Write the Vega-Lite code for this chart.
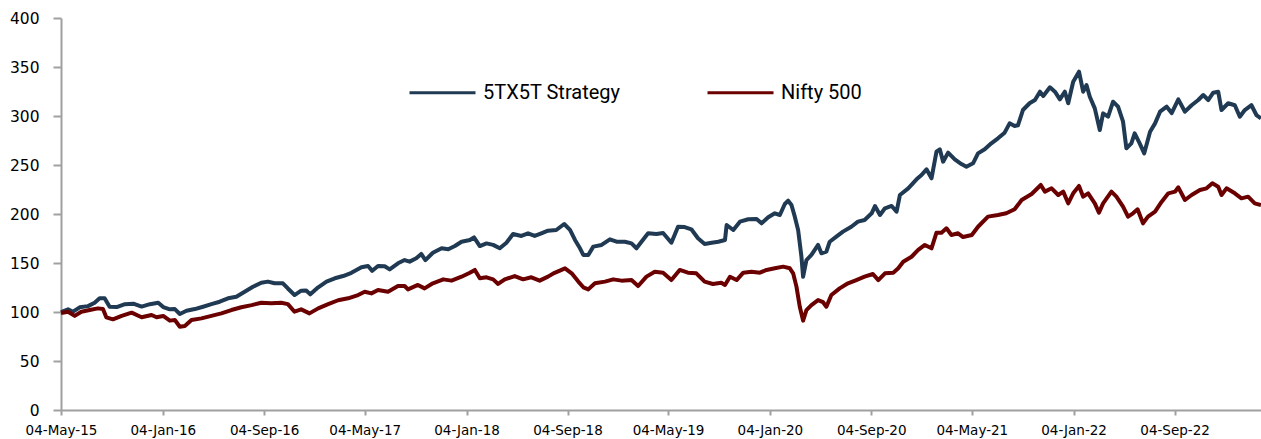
{
  "$schema": "https://vega.github.io/schema/vega-lite/v6.json",
  "autosize": {"type": "none"},
  "padding": {"left": 61, "top": 18, "right": 0, "bottom": 29},
  "width": 1200,
  "height": 392,
  "background": "white",
  "config": {"view": {"stroke": null}},
  "data": {"values": [
    {"d":"2015-05-04","s":"5TX5T Strategy","v":100},{"d":"2015-05-21","s":"5TX5T Strategy","v":102.7},{"d":"2015-06-02","s":"5TX5T Strategy","v":100.3},{"d":"2015-06-18","s":"5TX5T Strategy","v":104.8},{"d":"2015-07-08","s":"5TX5T Strategy","v":106},{"d":"2015-07-24","s":"5TX5T Strategy","v":109.5},{"d":"2015-08-05","s":"5TX5T Strategy","v":114},{"d":"2015-08-17","s":"5TX5T Strategy","v":114},{"d":"2015-08-29","s":"5TX5T Strategy","v":105.4},{"d":"2015-09-15","s":"5TX5T Strategy","v":105},{"d":"2015-10-05","s":"5TX5T Strategy","v":108},{"d":"2015-10-25","s":"5TX5T Strategy","v":108.5},{"d":"2015-11-14","s":"5TX5T Strategy","v":105.5},{"d":"2015-12-04","s":"5TX5T Strategy","v":108},{"d":"2015-12-24","s":"5TX5T Strategy","v":109.5},
    {"d":"2016-01-05","s":"5TX5T Strategy","v":105},{"d":"2016-01-21","s":"5TX5T Strategy","v":102.7},{"d":"2016-02-02","s":"5TX5T Strategy","v":103},{"d":"2016-02-14","s":"5TX5T Strategy","v":98},{"d":"2016-03-01","s":"5TX5T Strategy","v":101.3},{"d":"2016-03-21","s":"5TX5T Strategy","v":103},{"d":"2016-04-10","s":"5TX5T Strategy","v":105.4},{"d":"2016-04-30","s":"5TX5T Strategy","v":108},{"d":"2016-05-20","s":"5TX5T Strategy","v":110.5},{"d":"2016-06-09","s":"5TX5T Strategy","v":114},{"d":"2016-06-29","s":"5TX5T Strategy","v":115.6},{"d":"2016-07-19","s":"5TX5T Strategy","v":120.7},{"d":"2016-08-08","s":"5TX5T Strategy","v":125.8},{"d":"2016-08-28","s":"5TX5T Strategy","v":129.9},{"d":"2016-09-13","s":"5TX5T Strategy","v":131},{"d":"2016-09-29","s":"5TX5T Strategy","v":129.3},{"d":"2016-10-19","s":"5TX5T Strategy","v":129.3},{"d":"2016-10-31","s":"5TX5T Strategy","v":124},{"d":"2016-11-16","s":"5TX5T Strategy","v":117.3},{"d":"2016-12-02","s":"5TX5T Strategy","v":121.8},{"d":"2016-12-14","s":"5TX5T Strategy","v":122},{"d":"2016-12-24","s":"5TX5T Strategy","v":118},
    {"d":"2017-01-12","s":"5TX5T Strategy","v":125.2},{"d":"2017-02-01","s":"5TX5T Strategy","v":131},{"d":"2017-02-21","s":"5TX5T Strategy","v":134.4},{"d":"2017-03-13","s":"5TX5T Strategy","v":136.7},{"d":"2017-04-02","s":"5TX5T Strategy","v":140},{"d":"2017-04-26","s":"5TX5T Strategy","v":145.6},{"d":"2017-05-12","s":"5TX5T Strategy","v":147},{"d":"2017-05-22","s":"5TX5T Strategy","v":142},{"d":"2017-06-05","s":"5TX5T Strategy","v":147},{"d":"2017-06-21","s":"5TX5T Strategy","v":146.7},{"d":"2017-07-03","s":"5TX5T Strategy","v":143.5},{"d":"2017-07-23","s":"5TX5T Strategy","v":149.7},{"d":"2017-08-08","s":"5TX5T Strategy","v":153},{"d":"2017-08-20","s":"5TX5T Strategy","v":151.4},{"d":"2017-09-05","s":"5TX5T Strategy","v":154.8},{"d":"2017-09-17","s":"5TX5T Strategy","v":159.2},{"d":"2017-09-27","s":"5TX5T Strategy","v":153},{"d":"2017-10-15","s":"5TX5T Strategy","v":160.5},{"d":"2017-11-05","s":"5TX5T Strategy","v":165},{"d":"2017-11-21","s":"5TX5T Strategy","v":164},{"d":"2017-12-07","s":"5TX5T Strategy","v":167.3},{"d":"2017-12-23","s":"5TX5T Strategy","v":171.7},
    {"d":"2018-01-12","s":"5TX5T Strategy","v":173.5},{"d":"2018-01-22","s":"5TX5T Strategy","v":176.2},{"d":"2018-02-05","s":"5TX5T Strategy","v":167.3},{"d":"2018-02-21","s":"5TX5T Strategy","v":170},{"d":"2018-03-09","s":"5TX5T Strategy","v":168.5},{"d":"2018-03-25","s":"5TX5T Strategy","v":165},{"d":"2018-04-10","s":"5TX5T Strategy","v":170.7},{"d":"2018-04-26","s":"5TX5T Strategy","v":179.6},{"d":"2018-05-16","s":"5TX5T Strategy","v":177.6},{"d":"2018-06-01","s":"5TX5T Strategy","v":180.3},{"d":"2018-06-17","s":"5TX5T Strategy","v":177.6},{"d":"2018-07-03","s":"5TX5T Strategy","v":180.3},{"d":"2018-07-19","s":"5TX5T Strategy","v":183},{"d":"2018-08-08","s":"5TX5T Strategy","v":183.7},{"d":"2018-08-27","s":"5TX5T Strategy","v":189.8},{"d":"2018-09-10","s":"5TX5T Strategy","v":183.7},{"d":"2018-09-22","s":"5TX5T Strategy","v":173.5},{"d":"2018-10-04","s":"5TX5T Strategy","v":165},{"d":"2018-10-12","s":"5TX5T Strategy","v":158.2},{"d":"2018-10-24","s":"5TX5T Strategy","v":158.2},{"d":"2018-11-05","s":"5TX5T Strategy","v":166.7},{"d":"2018-11-25","s":"5TX5T Strategy","v":168.4},{"d":"2018-12-15","s":"5TX5T Strategy","v":174.2},{"d":"2018-12-31","s":"5TX5T Strategy","v":171.7},
    {"d":"2019-01-20","s":"5TX5T Strategy","v":171.7},{"d":"2019-02-05","s":"5TX5T Strategy","v":170},{"d":"2019-02-17","s":"5TX5T Strategy","v":165},{"d":"2019-03-01","s":"5TX5T Strategy","v":171.7},{"d":"2019-03-17","s":"5TX5T Strategy","v":180.3},{"d":"2019-04-06","s":"5TX5T Strategy","v":179.6},{"d":"2019-04-22","s":"5TX5T Strategy","v":180.6},{"d":"2019-05-12","s":"5TX5T Strategy","v":170.7},{"d":"2019-05-28","s":"5TX5T Strategy","v":187},{"d":"2019-06-13","s":"5TX5T Strategy","v":186.7},{"d":"2019-06-29","s":"5TX5T Strategy","v":184.4},{"d":"2019-07-15","s":"5TX5T Strategy","v":175.2},{"d":"2019-07-31","s":"5TX5T Strategy","v":169.4},{"d":"2019-08-17","s":"5TX5T Strategy","v":170.7},{"d":"2019-09-02","s":"5TX5T Strategy","v":171.7},{"d":"2019-09-18","s":"5TX5T Strategy","v":173.5},{"d":"2019-09-22","s":"5TX5T Strategy","v":188.8},{"d":"2019-10-08","s":"5TX5T Strategy","v":183.7},{"d":"2019-10-24","s":"5TX5T Strategy","v":192.2},{"d":"2019-11-13","s":"5TX5T Strategy","v":194.6},{"d":"2019-12-03","s":"5TX5T Strategy","v":195},{"d":"2019-12-15","s":"5TX5T Strategy","v":190.5},{"d":"2019-12-31","s":"5TX5T Strategy","v":196.6},
    {"d":"2020-01-16","s":"5TX5T Strategy","v":200.7},{"d":"2020-01-28","s":"5TX5T Strategy","v":199},{"d":"2020-02-09","s":"5TX5T Strategy","v":210.2},{"d":"2020-02-17","s":"5TX5T Strategy","v":213.6},{"d":"2020-02-25","s":"5TX5T Strategy","v":209.2},{"d":"2020-03-04","s":"5TX5T Strategy","v":197.3},{"d":"2020-03-12","s":"5TX5T Strategy","v":183.7},{"d":"2020-03-20","s":"5TX5T Strategy","v":156.4},{"d":"2020-03-24","s":"5TX5T Strategy","v":136},{"d":"2020-04-01","s":"5TX5T Strategy","v":153},{"d":"2020-04-13","s":"5TX5T Strategy","v":158.2},{"d":"2020-04-29","s":"5TX5T Strategy","v":168.4},{"d":"2020-05-07","s":"5TX5T Strategy","v":159.9},{"d":"2020-05-19","s":"5TX5T Strategy","v":161.6},{"d":"2020-05-27","s":"5TX5T Strategy","v":171.7},{"d":"2020-06-12","s":"5TX5T Strategy","v":176.9},{"d":"2020-06-28","s":"5TX5T Strategy","v":182},{"d":"2020-07-18","s":"5TX5T Strategy","v":187},{"d":"2020-08-03","s":"5TX5T Strategy","v":192.2},{"d":"2020-08-19","s":"5TX5T Strategy","v":193.9},{"d":"2020-09-05","s":"5TX5T Strategy","v":200.7},{"d":"2020-09-13","s":"5TX5T Strategy","v":208.2},{"d":"2020-09-25","s":"5TX5T Strategy","v":199},{"d":"2020-10-07","s":"5TX5T Strategy","v":205.8},{"d":"2020-10-23","s":"5TX5T Strategy","v":208.2},{"d":"2020-11-04","s":"5TX5T Strategy","v":202.4},{"d":"2020-11-12","s":"5TX5T Strategy","v":219.4},{"d":"2020-12-02","s":"5TX5T Strategy","v":226.2},{"d":"2020-12-22","s":"5TX5T Strategy","v":235.4},
    {"d":"2021-01-03","s":"5TX5T Strategy","v":239.8},{"d":"2021-01-15","s":"5TX5T Strategy","v":245.6},{"d":"2021-01-27","s":"5TX5T Strategy","v":236.4},{"d":"2021-02-08","s":"5TX5T Strategy","v":263.6},{"d":"2021-02-16","s":"5TX5T Strategy","v":266},{"d":"2021-02-24","s":"5TX5T Strategy","v":253.4},{"d":"2021-03-08","s":"5TX5T Strategy","v":262.6},{"d":"2021-03-24","s":"5TX5T Strategy","v":255.8},{"d":"2021-04-09","s":"5TX5T Strategy","v":251},{"d":"2021-04-21","s":"5TX5T Strategy","v":248.3},{"d":"2021-05-07","s":"5TX5T Strategy","v":251.7},{"d":"2021-05-19","s":"5TX5T Strategy","v":261.9},{"d":"2021-06-04","s":"5TX5T Strategy","v":266},{"d":"2021-06-20","s":"5TX5T Strategy","v":272.1},{"d":"2021-07-06","s":"5TX5T Strategy","v":277.2},{"d":"2021-07-22","s":"5TX5T Strategy","v":283},{"d":"2021-08-03","s":"5TX5T Strategy","v":292.5},{"d":"2021-08-15","s":"5TX5T Strategy","v":289.8},{"d":"2021-08-23","s":"5TX5T Strategy","v":290.5},{"d":"2021-09-04","s":"5TX5T Strategy","v":306.1},{"d":"2021-09-20","s":"5TX5T Strategy","v":313},{"d":"2021-10-03","s":"5TX5T Strategy","v":316.3},{"d":"2021-10-15","s":"5TX5T Strategy","v":324.8},{"d":"2021-10-23","s":"5TX5T Strategy","v":320.4},{"d":"2021-11-08","s":"5TX5T Strategy","v":329.3},{"d":"2021-11-20","s":"5TX5T Strategy","v":324.8},{"d":"2021-12-02","s":"5TX5T Strategy","v":317},{"d":"2021-12-14","s":"5TX5T Strategy","v":324.8},{"d":"2021-12-22","s":"5TX5T Strategy","v":313},
    {"d":"2022-01-03","s":"5TX5T Strategy","v":335},{"d":"2022-01-17","s":"5TX5T Strategy","v":345.2},{"d":"2022-01-27","s":"5TX5T Strategy","v":324.8},{"d":"2022-02-04","s":"5TX5T Strategy","v":331.6},{"d":"2022-02-12","s":"5TX5T Strategy","v":319.7},{"d":"2022-02-24","s":"5TX5T Strategy","v":307.8},{"d":"2022-03-08","s":"5TX5T Strategy","v":285.7},{"d":"2022-03-16","s":"5TX5T Strategy","v":302.7},{"d":"2022-03-28","s":"5TX5T Strategy","v":299.3},{"d":"2022-04-09","s":"5TX5T Strategy","v":314.6},{"d":"2022-04-21","s":"5TX5T Strategy","v":309.5},{"d":"2022-05-03","s":"5TX5T Strategy","v":294.2},{"d":"2022-05-11","s":"5TX5T Strategy","v":267},{"d":"2022-05-23","s":"5TX5T Strategy","v":272.1},{"d":"2022-05-31","s":"5TX5T Strategy","v":282.3},{"d":"2022-06-12","s":"5TX5T Strategy","v":272.1},{"d":"2022-06-23","s":"5TX5T Strategy","v":261.9},{"d":"2022-07-07","s":"5TX5T Strategy","v":284},{"d":"2022-07-19","s":"5TX5T Strategy","v":292.5},{"d":"2022-07-31","s":"5TX5T Strategy","v":304.4},{"d":"2022-08-16","s":"5TX5T Strategy","v":309.5},{"d":"2022-08-28","s":"5TX5T Strategy","v":303},{"d":"2022-09-13","s":"5TX5T Strategy","v":317},{"d":"2022-09-29","s":"5TX5T Strategy","v":304.4},{"d":"2022-10-15","s":"5TX5T Strategy","v":311},{"d":"2022-10-31","s":"5TX5T Strategy","v":316.3},{"d":"2022-11-12","s":"5TX5T Strategy","v":321.4},{"d":"2022-11-24","s":"5TX5T Strategy","v":316.3},{"d":"2022-12-06","s":"5TX5T Strategy","v":323.8},{"d":"2022-12-18","s":"5TX5T Strategy","v":324.8},{"d":"2022-12-26","s":"5TX5T Strategy","v":306.1},
    {"d":"2023-01-11","s":"5TX5T Strategy","v":313},{"d":"2023-01-27","s":"5TX5T Strategy","v":311},{"d":"2023-02-08","s":"5TX5T Strategy","v":299.3},{"d":"2023-02-20","s":"5TX5T Strategy","v":306.1},{"d":"2023-03-08","s":"5TX5T Strategy","v":311},{"d":"2023-03-20","s":"5TX5T Strategy","v":301},{"d":"2023-03-31","s":"5TX5T Strategy","v":297.6},
    {"d":"2015-05-04","s":"Nifty 500","v":99},{"d":"2015-05-21","s":"Nifty 500","v":100.3},{"d":"2015-06-06","s":"Nifty 500","v":96},{"d":"2015-06-22","s":"Nifty 500","v":100.3},{"d":"2015-07-12","s":"Nifty 500","v":102},{"d":"2015-08-01","s":"Nifty 500","v":103.7},{"d":"2015-08-13","s":"Nifty 500","v":103},{"d":"2015-08-21","s":"Nifty 500","v":94.6},{"d":"2015-09-06","s":"Nifty 500","v":92.5},{"d":"2015-09-27","s":"Nifty 500","v":96},{"d":"2015-10-21","s":"Nifty 500","v":99.3},{"d":"2015-11-14","s":"Nifty 500","v":94.6},{"d":"2015-12-08","s":"Nifty 500","v":97},{"d":"2015-12-20","s":"Nifty 500","v":94.6},
    {"d":"2016-01-05","s":"Nifty 500","v":96},{"d":"2016-01-21","s":"Nifty 500","v":91.2},{"d":"2016-02-02","s":"Nifty 500","v":91.8},{"d":"2016-02-14","s":"Nifty 500","v":85},{"d":"2016-02-26","s":"Nifty 500","v":85.7},{"d":"2016-03-13","s":"Nifty 500","v":91.8},{"d":"2016-04-06","s":"Nifty 500","v":93.5},{"d":"2016-04-30","s":"Nifty 500","v":96},{"d":"2016-05-24","s":"Nifty 500","v":98.6},{"d":"2016-06-17","s":"Nifty 500","v":102},{"d":"2016-07-11","s":"Nifty 500","v":104.8},{"d":"2016-08-05","s":"Nifty 500","v":107},{"d":"2016-08-28","s":"Nifty 500","v":109.5},{"d":"2016-09-21","s":"Nifty 500","v":109},{"d":"2016-10-15","s":"Nifty 500","v":109.5},{"d":"2016-10-31","s":"Nifty 500","v":108},{"d":"2016-11-16","s":"Nifty 500","v":100.3},{"d":"2016-12-02","s":"Nifty 500","v":102.7},{"d":"2016-12-22","s":"Nifty 500","v":98.6},
    {"d":"2017-01-12","s":"Nifty 500","v":103.7},{"d":"2017-02-05","s":"Nifty 500","v":108},{"d":"2017-03-01","s":"Nifty 500","v":112},{"d":"2017-03-25","s":"Nifty 500","v":114},{"d":"2017-04-18","s":"Nifty 500","v":117.3},{"d":"2017-05-04","s":"Nifty 500","v":120.7},{"d":"2017-05-20","s":"Nifty 500","v":119},{"d":"2017-06-05","s":"Nifty 500","v":122.4},{"d":"2017-06-29","s":"Nifty 500","v":120.7},{"d":"2017-07-23","s":"Nifty 500","v":126.5},{"d":"2017-08-08","s":"Nifty 500","v":126.5},{"d":"2017-08-16","s":"Nifty 500","v":123.1},{"d":"2017-09-09","s":"Nifty 500","v":127.6},{"d":"2017-09-25","s":"Nifty 500","v":124.1},{"d":"2017-10-15","s":"Nifty 500","v":129.3},{"d":"2017-11-09","s":"Nifty 500","v":133.3},{"d":"2017-11-29","s":"Nifty 500","v":132},{"d":"2017-12-23","s":"Nifty 500","v":136},
    {"d":"2018-01-12","s":"Nifty 500","v":140},{"d":"2018-01-24","s":"Nifty 500","v":142.9},{"d":"2018-02-05","s":"Nifty 500","v":134.4},{"d":"2018-02-21","s":"Nifty 500","v":135.4},{"d":"2018-03-09","s":"Nifty 500","v":133.3},{"d":"2018-03-21","s":"Nifty 500","v":128.6},{"d":"2018-04-06","s":"Nifty 500","v":133.3},{"d":"2018-04-30","s":"Nifty 500","v":136.7},{"d":"2018-05-20","s":"Nifty 500","v":133.3},{"d":"2018-06-09","s":"Nifty 500","v":135.4},{"d":"2018-06-29","s":"Nifty 500","v":132},{"d":"2018-07-19","s":"Nifty 500","v":136.1},{"d":"2018-08-04","s":"Nifty 500","v":140},{"d":"2018-08-29","s":"Nifty 500","v":144.6},{"d":"2018-09-14","s":"Nifty 500","v":139.5},{"d":"2018-09-30","s":"Nifty 500","v":131},{"d":"2018-10-12","s":"Nifty 500","v":125.2},{"d":"2018-10-24","s":"Nifty 500","v":123.1},{"d":"2018-11-09","s":"Nifty 500","v":129.3},{"d":"2018-12-03","s":"Nifty 500","v":131},{"d":"2018-12-23","s":"Nifty 500","v":133.3},
    {"d":"2019-01-12","s":"Nifty 500","v":132},{"d":"2019-02-05","s":"Nifty 500","v":132.6},{"d":"2019-02-21","s":"Nifty 500","v":126.5},{"d":"2019-03-13","s":"Nifty 500","v":136.1},{"d":"2019-04-02","s":"Nifty 500","v":141.1},{"d":"2019-04-22","s":"Nifty 500","v":140},{"d":"2019-05-12","s":"Nifty 500","v":132.6},{"d":"2019-06-01","s":"Nifty 500","v":142.9},{"d":"2019-06-21","s":"Nifty 500","v":140.1},{"d":"2019-07-11","s":"Nifty 500","v":139.5},{"d":"2019-07-31","s":"Nifty 500","v":131},{"d":"2019-08-20","s":"Nifty 500","v":128.6},{"d":"2019-09-09","s":"Nifty 500","v":129.9},{"d":"2019-09-18","s":"Nifty 500","v":127.6},{"d":"2019-09-30","s":"Nifty 500","v":136},{"d":"2019-10-16","s":"Nifty 500","v":132.6},{"d":"2019-11-01","s":"Nifty 500","v":140.1},{"d":"2019-11-21","s":"Nifty 500","v":141.1},{"d":"2019-12-11","s":"Nifty 500","v":140.1},{"d":"2019-12-27","s":"Nifty 500","v":142.9},
    {"d":"2020-01-16","s":"Nifty 500","v":144.6},{"d":"2020-02-05","s":"Nifty 500","v":146.3},{"d":"2020-02-21","s":"Nifty 500","v":144.6},{"d":"2020-02-29","s":"Nifty 500","v":139.5},{"d":"2020-03-08","s":"Nifty 500","v":125.9},{"d":"2020-03-16","s":"Nifty 500","v":105.4},{"d":"2020-03-24","s":"Nifty 500","v":91.2},{"d":"2020-04-01","s":"Nifty 500","v":102},{"d":"2020-04-13","s":"Nifty 500","v":107.1},{"d":"2020-04-29","s":"Nifty 500","v":112.2},{"d":"2020-05-11","s":"Nifty 500","v":110},{"d":"2020-05-19","s":"Nifty 500","v":105.4},{"d":"2020-05-31","s":"Nifty 500","v":117.3},{"d":"2020-06-20","s":"Nifty 500","v":124.1},{"d":"2020-07-10","s":"Nifty 500","v":129.3},{"d":"2020-07-30","s":"Nifty 500","v":132.6},{"d":"2020-08-19","s":"Nifty 500","v":136},{"d":"2020-09-08","s":"Nifty 500","v":138.8},{"d":"2020-09-21","s":"Nifty 500","v":132.6},{"d":"2020-10-07","s":"Nifty 500","v":139.5},{"d":"2020-10-27","s":"Nifty 500","v":140.1},{"d":"2020-11-08","s":"Nifty 500","v":144.6},{"d":"2020-11-20","s":"Nifty 500","v":151.3},{"d":"2020-12-10","s":"Nifty 500","v":156.4},{"d":"2020-12-26","s":"Nifty 500","v":163.3},
    {"d":"2021-01-11","s":"Nifty 500","v":168.4},{"d":"2021-01-27","s":"Nifty 500","v":165},{"d":"2021-02-08","s":"Nifty 500","v":180.9},{"d":"2021-02-20","s":"Nifty 500","v":180.9},{"d":"2021-03-04","s":"Nifty 500","v":185.4},{"d":"2021-03-16","s":"Nifty 500","v":178.6},{"d":"2021-04-01","s":"Nifty 500","v":180.3},{"d":"2021-04-13","s":"Nifty 500","v":176.5},{"d":"2021-05-04","s":"Nifty 500","v":178.6},{"d":"2021-05-19","s":"Nifty 500","v":187},{"d":"2021-06-12","s":"Nifty 500","v":197.3},{"d":"2021-07-06","s":"Nifty 500","v":199},{"d":"2021-07-26","s":"Nifty 500","v":200.7},{"d":"2021-08-15","s":"Nifty 500","v":204.8},{"d":"2021-09-01","s":"Nifty 500","v":214.3},{"d":"2021-09-25","s":"Nifty 500","v":220.4},{"d":"2021-10-17","s":"Nifty 500","v":229.6},{"d":"2021-10-27","s":"Nifty 500","v":222.8},{"d":"2021-11-12","s":"Nifty 500","v":226.2},{"d":"2021-11-28","s":"Nifty 500","v":219.4},{"d":"2021-12-10","s":"Nifty 500","v":222.8},{"d":"2021-12-22","s":"Nifty 500","v":210.9},
    {"d":"2022-01-03","s":"Nifty 500","v":221.1},{"d":"2022-01-17","s":"Nifty 500","v":228.6},{"d":"2022-01-27","s":"Nifty 500","v":217.7},{"d":"2022-02-08","s":"Nifty 500","v":221.1},{"d":"2022-02-24","s":"Nifty 500","v":210.9},{"d":"2022-03-06","s":"Nifty 500","v":201.4},{"d":"2022-03-16","s":"Nifty 500","v":210.9},{"d":"2022-04-05","s":"Nifty 500","v":222.8},{"d":"2022-04-17","s":"Nifty 500","v":217.7},{"d":"2022-05-03","s":"Nifty 500","v":207.5},{"d":"2022-05-15","s":"Nifty 500","v":197.3},{"d":"2022-05-27","s":"Nifty 500","v":200.7},{"d":"2022-06-07","s":"Nifty 500","v":204.8},{"d":"2022-06-20","s":"Nifty 500","v":190.5},{"d":"2022-07-02","s":"Nifty 500","v":197.3},{"d":"2022-07-19","s":"Nifty 500","v":202.4},{"d":"2022-08-04","s":"Nifty 500","v":212.6},{"d":"2022-08-20","s":"Nifty 500","v":221.1},{"d":"2022-09-05","s":"Nifty 500","v":222.8},{"d":"2022-09-13","s":"Nifty 500","v":227.2},{"d":"2022-09-29","s":"Nifty 500","v":214.3},{"d":"2022-10-15","s":"Nifty 500","v":219.4},{"d":"2022-11-04","s":"Nifty 500","v":224.5},{"d":"2022-11-20","s":"Nifty 500","v":226.2},{"d":"2022-12-04","s":"Nifty 500","v":231.3},{"d":"2022-12-18","s":"Nifty 500","v":227.9},{"d":"2022-12-26","s":"Nifty 500","v":219.4},
    {"d":"2023-01-07","s":"Nifty 500","v":226.2},{"d":"2023-01-27","s":"Nifty 500","v":221.1},{"d":"2023-02-12","s":"Nifty 500","v":216},{"d":"2023-02-28","s":"Nifty 500","v":217.7},{"d":"2023-03-16","s":"Nifty 500","v":210.9},{"d":"2023-03-31","s":"Nifty 500","v":209.2}
  ]},
  "mark": {"type": "line", "strokeWidth": 4, "strokeJoin": "round"},
  "encoding": {
    "x": {
      "field": "d", "type": "temporal", "title": null,
      "scale": {"type": "utc", "domain": [{"year": 2015, "month": 5, "date": 4, "utc": true}, {"year": 2023, "month": 3, "date": 31, "utc": true}]},
      "axis": {
        "values": [
          {"year": 2015, "month": 5, "date": 4, "utc": true},
          {"year": 2016, "month": 1, "date": 4, "utc": true},
          {"year": 2016, "month": 9, "date": 4, "utc": true},
          {"year": 2017, "month": 5, "date": 4, "utc": true},
          {"year": 2018, "month": 1, "date": 4, "utc": true},
          {"year": 2018, "month": 9, "date": 4, "utc": true},
          {"year": 2019, "month": 5, "date": 4, "utc": true},
          {"year": 2020, "month": 1, "date": 4, "utc": true},
          {"year": 2020, "month": 9, "date": 4, "utc": true},
          {"year": 2021, "month": 5, "date": 4, "utc": true},
          {"year": 2022, "month": 1, "date": 4, "utc": true},
          {"year": 2022, "month": 9, "date": 4, "utc": true}
        ],
        "labelExpr": "utcFormat(datum.value, '%d-%b-%y')",
        "grid": false, "domainColor": "#a0a0a0", "domainWidth": 2, "tickColor": "#a0a0a0", "tickWidth": 2, "tickSize": 5,
        "labelFont": "DejaVu Sans", "labelFontSize": 13.5, "labelColor": "#000000", "labelPadding": 8, "labelOverlap": false, "labelFlush": false
      }
    },
    "y": {
      "field": "v", "type": "quantitative", "title": null,
      "scale": {"domain": [0, 400], "nice": false, "zero": true},
      "axis": {
        "values": [0, 50, 100, 150, 200, 250, 300, 350, 400],
        "grid": false, "domainColor": "#a0a0a0", "domainWidth": 2, "tickColor": "#a0a0a0", "tickWidth": 2, "tickSize": 8,
        "labelFont": "DejaVu Sans", "labelFontSize": 15.5, "labelColor": "#000000", "labelPadding": 14
      }
    },
    "color": {
      "field": "s", "type": "nominal",
      "scale": {"domain": ["5TX5T Strategy", "Nifty 500"], "range": ["#1f3a52", "#6b0000"]},
      "legend": {
        "title": null, "orient": "none", "direction": "horizontal", "legendX": 347, "legendY": 40,
        "symbolType": "stroke", "symbolSize": 4356, "symbolStrokeWidth": 3,
        "labelFont": "Roboto", "labelFontSize": 20, "labelColor": "#000000", "labelOffset": 6,
        "columnPadding": 80, "padding": 0
      }
    }
  }
}
